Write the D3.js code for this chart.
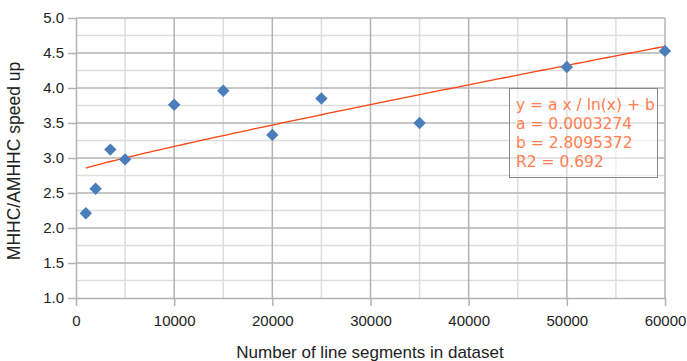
<!DOCTYPE html>
<html lang="en">
<head>
<meta charset="UTF-8">
<title>speed up</title>
<script src="https://d3js.org/d3.v7.min.js"></script>
<style>
body { margin: 0; background: #fff; }
svg { display: block; font-family: "Liberation Sans", Arial, sans-serif; }
</style>
</head>
<body>
<div id="container"></div>
<script>
// data
const segments = [1000, 2000, 3500, 5000, 10000, 15000, 20000, 25000, 35000, 50000, 60000];
const speedup = [2.21, 2.56, 3.12, 2.98, 3.76, 3.96, 3.33, 3.85, 3.50, 4.30, 4.53];
const fitA = 0.0003274, fitB = 2.8095372;
const fitLabels = ["y = a x / ln(x) + b", "a = 0.0003274", "b = 2.8095372", "R2 = 0.692"];
const xTicks = [0, 10000, 20000, 30000, 40000, 50000, 60000];
const yTicks = [1.0, 1.5, 2.0, 2.5, 3.0, 3.5, 4.0, 4.5, 5.0];

const width = 687, height = 361;
const svg = d3.select("#container").append("svg")
  .attr("width", width).attr("height", height);

const x = d3.scaleLinear().domain([0, 60000]).range([76, 665]);
const y = d3.scaleLinear().domain([1, 5]).range([298, 18]);

// minor gridlines
const g = svg.append("g");
d3.range(5000, 60000, 10000).forEach(v => {
  g.append("line").attr("x1", x(v)).attr("x2", x(v)).attr("y1", y(1)).attr("y2", y(5))
    .attr("stroke", "#dddddd").attr("stroke-width", 1.5);
});
d3.range(1.25, 5, 0.5).forEach(v => {
  g.append("line").attr("x1", x(0)).attr("x2", x(60000)).attr("y1", y(v)).attr("y2", y(v))
    .attr("stroke", "#dddddd").attr("stroke-width", 1.5);
});

// major gridlines
xTicks.slice(1).forEach(v => {
  g.append("line").attr("x1", x(v)).attr("x2", x(v)).attr("y1", y(1)).attr("y2", y(5))
    .attr("stroke", "#b3b3b3").attr("stroke-width", 1.5);
});
yTicks.slice(1).forEach(v => {
  g.append("line").attr("x1", x(0)).attr("x2", x(60000)).attr("y1", y(v)).attr("y2", y(v))
    .attr("stroke", "#b3b3b3").attr("stroke-width", 1.5);
});

// axes
const xAxis = svg.append("g").attr("transform", `translate(0,${y(1)})`)
  .call(d3.axisBottom(x).tickValues(xTicks).tickFormat(d3.format("d")).tickSizeInner(8).tickSizeOuter(0).tickPadding(9));
const yAxis = svg.append("g").attr("transform", `translate(${x(0)},0)`)
  .call(d3.axisLeft(y).tickValues(yTicks).tickFormat(d3.format(".1f")).tickSizeInner(8).tickSizeOuter(0).tickPadding(4));
[xAxis, yAxis].forEach(a => {
  a.select(".domain").attr("stroke", "#b3b3b3").attr("stroke-width", 1.5);
  a.selectAll(".tick line").attr("stroke", "#b3b3b3").attr("stroke-width", 1.5);
  a.selectAll("text").attr("fill", "#222").style("font-size", "15px")
    .style("font-family", "'Liberation Sans', Arial, sans-serif");
});

// trend line
const fitX = d3.range(1000, 60001, 500);
const line = d3.line().x(d => x(d)).y(d => y(fitA * d / Math.log(d) + fitB));
svg.append("path").datum(fitX).attr("d", line)
  .attr("fill", "none").attr("stroke", "#ff420e").attr("stroke-width", 1.3);

// points
const diamond = d3.symbol().type(d3.symbolDiamond2).size(98);
svg.selectAll(".pt").data(segments).join("path")
  .attr("class", "pt")
  .attr("transform", (d, i) => `translate(${x(d)},${y(speedup[i])})`)
  .attr("d", diamond)
  .attr("fill", "#4a7ebb");

// equation box
svg.append("rect").attr("x", 509.5).attr("y", 88.5).attr("width", 148).attr("height", 89)
  .attr("fill", "#fff").attr("fill-opacity", 0.55).attr("stroke", "#888").attr("stroke-width", 1);
svg.selectAll(".eq").data(fitLabels).join("text")
  .attr("class", "eq")
  .attr("x", 516).attr("y", (d, i) => 110 + i * 19)
  .attr("fill", "#ff7f50").style("font-size", "15.5px")
  .style("font-family", "'DejaVu Sans', sans-serif")
  .text(d => d);

// axis titles
svg.append("text").attr("x", 370).attr("y", 358).attr("text-anchor", "middle")
  .attr("fill", "#222").style("font-size", "17px")
  .text("Number of line segments in dataset");
svg.append("text").attr("transform", "translate(20,161) rotate(-90)").attr("text-anchor", "middle")
  .attr("fill", "#222").style("font-size", "17.5px")
  .text("MHHC/AMHHC speed up");
</script>
</body>
</html>
